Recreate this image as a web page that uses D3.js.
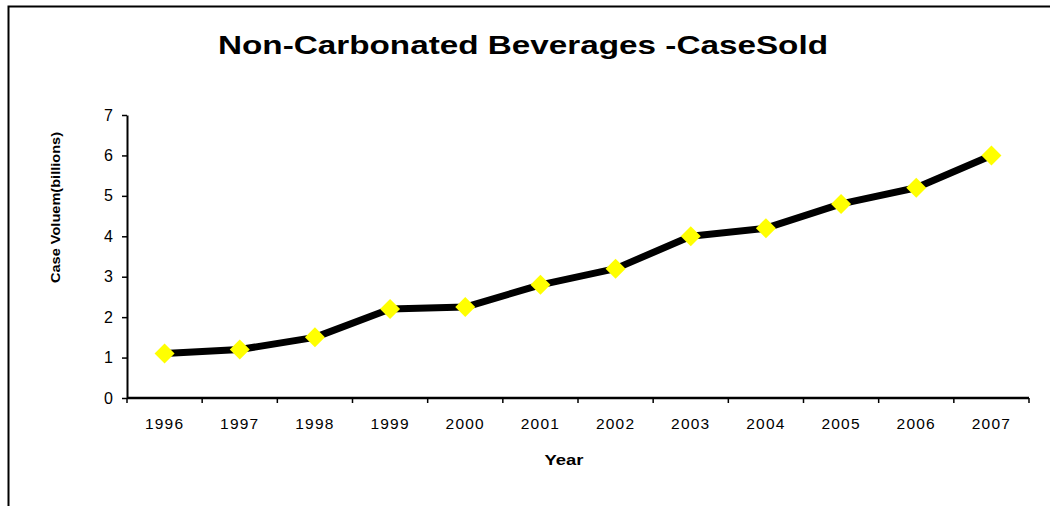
<!DOCTYPE html>
<html><head><meta charset="utf-8">
<script src="https://cdn.jsdelivr.net/npm/d3@7"></script>
<style>body{margin:0;background:#fff}svg{display:block}text{font-family:"Liberation Sans",Arial,sans-serif}</style>
</head><body><svg id="c" width="1050" height="506"></svg>
<script>
const years = ["1996","1997","1998","1999","2000","2001","2002","2003","2004","2005","2006","2007"];
const values = [1.1,1.2,1.5,2.2,2.25,2.8,3.2,4.0,4.2,4.8,5.2,6.0];
const yTicks = [0,1,2,3,4,5,6,7];

(function(){
const svg = d3.select("#c");
svg.append("path").attr("d","M8.5,510 V6.5 H1060").attr("fill","none").attr("stroke","#000").attr("stroke-width",2);

const pLeft = 127, pRight = 1029, pTop = 115, pBottom = 398;
const x = d3.scaleBand().domain(years).range([pLeft,pRight]).padding(0);
const y = d3.scaleLinear().domain([0,7]).range([pBottom,pTop]);

svg.append("text").attr("x",523).attr("y",54).attr("text-anchor","middle")
  .attr("font-size",25).attr("font-weight","bold").attr("fill","#000")
  .attr("textLength",610).attr("lengthAdjust","spacingAndGlyphs")
  .text("Non-Carbonated Beverages -CaseSold");

const ya = svg.append("g").attr("transform",`translate(${pLeft},0)`)
  .call(d3.axisLeft(y).tickValues(yTicks).tickFormat(d3.format("d")).tickSize(5).tickSizeOuter(0).tickPadding(9));
ya.select(".domain").attr("stroke-width",2);
ya.selectAll(".tick line").attr("stroke-width",1.5);
ya.selectAll("text").attr("font-size",16).attr("font-family","'Liberation Sans',Arial,sans-serif");

const xa = svg.append("g").attr("transform",`translate(0,${pBottom})`)
  .call(d3.axisBottom(x).tickSize(0).tickPadding(20));
xa.select(".domain").attr("stroke-width",2.5).attr("d",`M${pLeft},0H${pRight}`);
xa.selectAll("text").attr("font-size",15.5).attr("letter-spacing",1.2).attr("dy",null).attr("y",31)
  .attr("font-family","'Liberation Sans',Arial,sans-serif");
const bounds = years.map(d=>x(d)).concat([pRight]);
svg.append("g").selectAll("line").data(bounds).join("line")
  .attr("x1",d=>d).attr("x2",d=>d).attr("y1",pBottom).attr("y2",pBottom+5)
  .attr("stroke","#000").attr("stroke-width",1.5);

svg.append("text").attr("transform",`translate(60,207.5) rotate(-90)`).attr("text-anchor","middle")
  .attr("font-size",13).attr("font-weight","bold")
  .attr("textLength",151).attr("lengthAdjust","spacingAndGlyphs")
  .text("Case Voluem(billions)");
svg.append("text").attr("x",564).attr("y",465).attr("text-anchor","middle")
  .attr("font-size",14).attr("font-weight","bold")
  .attr("textLength",39).attr("lengthAdjust","spacingAndGlyphs").text("Year");

const cx = d => x(d) + x.bandwidth()/2;
const line = d3.line().x((d,i)=>cx(years[i])).y(d=>y(d));
svg.append("path").datum(values).attr("d",line).attr("fill","none")
  .attr("stroke","#000").attr("stroke-width",7).attr("stroke-linejoin","round");

svg.append("g").selectAll("path").data(values).join("path")
  .attr("transform",(d,i)=>`translate(${cx(years[i])},${y(d)})`)
  .attr("d","M0,-10L10,0L0,10L-10,0Z").attr("fill","#FFFF00");
})();
</script></body></html>
